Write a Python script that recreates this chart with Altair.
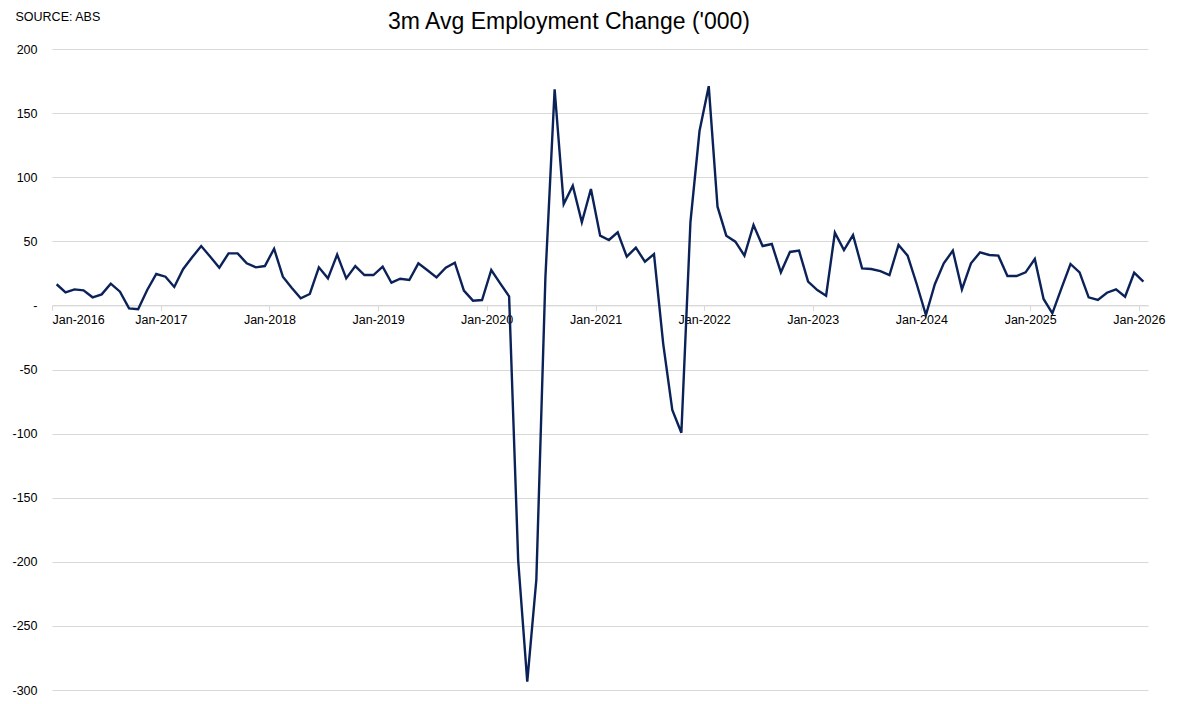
import altair as alt
import pandas as pd

# 3-month average monthly employment change ('000), Jan-2016 .. Jan-2026
v2016 = [16.5, 10.2, 12.5, 11.7, 6.3, 8.6, 17.0, 10.7, -2.3, -3.0, 12.0, 24.5]
v2017 = [22.4, 14.4, 28.2, 37.5, 46.3, 38.0, 29.4, 40.6, 40.6, 32.8, 29.7, 30.7]
v2018 = [44.2, 22.4, 13.8, 5.5, 8.9, 29.7, 21.1, 39.6, 21.1, 30.7, 23.7, 23.7]
v2019 = [30.2, 17.7, 20.8, 19.8, 32.8, 27.4, 21.9, 29.4, 33.3, 11.5, 3.7, 4.2]
v2020 = [27.6, 17.2, 7.0, -199.0, -293.5, -214.0, 22.0, 168.6, 79.0, 93.4, 64.8, 90.8]
v2021 = [54.4, 51.0, 57.0, 38.0, 45.0, 34.1, 40.0, -30.0, -81.6, -99.3, 65.0, 136.0]
v2022 = [171.0, 77.0, 54.4, 49.7, 38.8, 62.7, 46.3, 47.9, 25.8, 41.7, 42.7, 18.5]
v2023 = [12.0, 7.6, 56.7, 43.2, 54.9, 28.9, 28.4, 26.8, 23.7, 47.1, 38.8, 16.7]
v2024 = [-7.5, 16.5, 32.8, 42.7, 12.5, 32.8, 41.4, 39.3, 38.8, 22.9, 22.9, 25.8]
v2025 = [36.2, 5.0, -6.2, 13.3, 32.3, 25.8, 6.3, 4.2, 9.9, 12.5, 6.8, 25.5]
v2026 = [18.5]

values = v2016 + v2017 + v2018 + v2019 + v2020 + v2021 + v2022 + v2023 + v2024 + v2025 + v2026
months = pd.date_range("2016-01-01", periods=len(values), freq="MS").strftime("%Y-%m-%d").tolist()
tick_years = list(range(2016, 2027))
y_ticks = [-300, -250, -200, -150, -100, -50, 0, 50, 100, 150, 200]

df = pd.DataFrame({"month": months, "value": values})

FONT = "Liberation Sans"
GRID = "#d9d9d9"

x_axis = alt.Axis(
    values=[alt.DateTime(year=y, month=1, date=1) for y in tick_years],
    format="%b-%Y",
    formatType="time",
    orient="bottom",
    offset=-384.6,
    domainColor=GRID,
    domainWidth=1,
    tickColor=GRID,
    tickSize=5,
    labelPadding=3,
    labelFont=FONT,
    labelFontSize=12.5,
    labelColor="#000000",
    labelAngle=0,
    labelOverlap=False,
    grid=False,
    title=None,
)

y_axis = alt.Axis(
    values=y_ticks,
    labelExpr="datum.value == 0 ? '-\u00a0\u00a0\u00a0\u00a0' : '' + datum.value",
    domain=False,
    ticks=False,
    labelPadding=15,
    labelFont=FONT,
    labelFontSize=12.5,
    labelColor="#000000",
    gridColor=GRID,
    gridWidth=1,
    title="SOURCE: ABS",
    titleAngle=0,
    titleX=-37,
    titleY=-29,
    titleAlign="left",
    titleBaseline="alphabetic",
    titleFont=FONT,
    titleFontSize=12.5,
    titleFontWeight="normal",
    titleColor="#000000",
)

chart = (
    alt.Chart(df)
    .mark_line(color="#0b2259", strokeWidth=2.4, strokeJoin="miter", clip=False)
    .encode(
        x=alt.X(
            "month:T",
            timeUnit="yearmonth",
            bandPosition=0.5,
            scale=alt.Scale(
                domain=[
                    alt.DateTime(year=2016, month=1, date=1),
                    alt.DateTime(year=2026, month=2, date=1),
                ],
                nice=False,
            ),
            axis=x_axis,
        ),
        y=alt.Y(
            "value:Q",
            scale=alt.Scale(domain=[-300, 200], nice=False, zero=False),
            axis=y_axis,
        ),
    )
    .properties(
        width=1096,
        height=641,
        title=alt.TitleParams(
            text="3m Avg Employment Change ('000)",
            font=FONT,
            fontSize=23,
            fontWeight="normal",
            color="#000000",
            anchor="middle",
            baseline="alphabetic",
            dx=-31,
            dy=46,
        ),
        autosize=alt.AutoSizeParams(type="none"),
        padding={"left": 44, "top": 41, "right": 36, "bottom": 8},
        background="white",
    )
    .configure_view(stroke=None)
)

chart.save("out.html", embed_options={"renderer": "svg", "actions": False})
